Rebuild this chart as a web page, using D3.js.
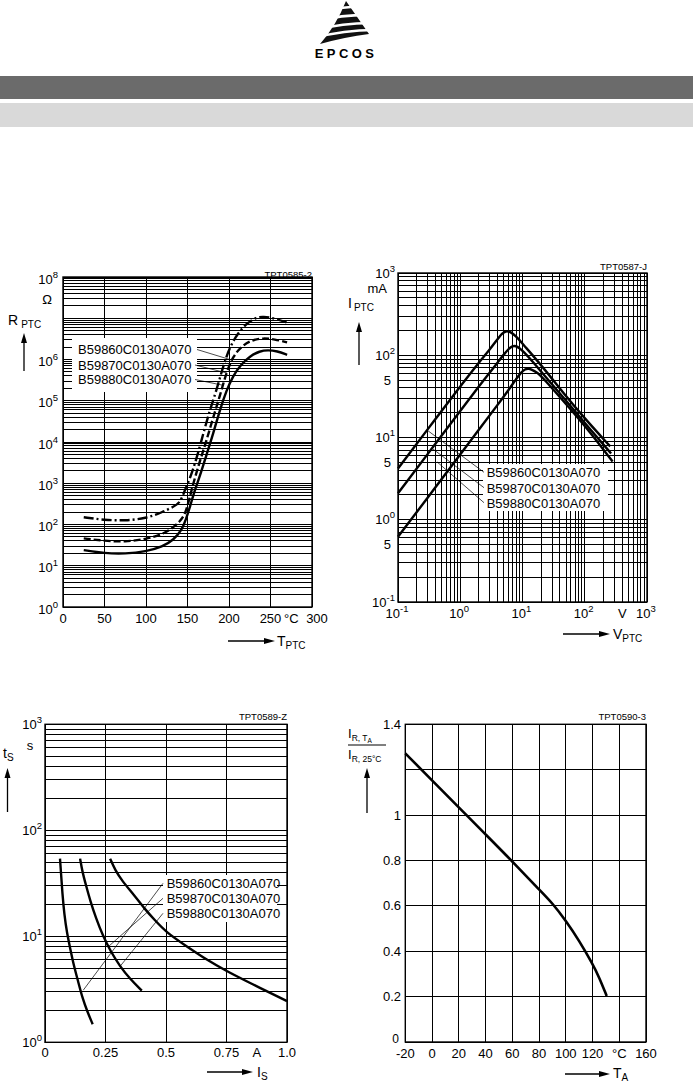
<!DOCTYPE html>
<html>
<head>
<meta charset="utf-8">
<script src="https://cdn.jsdelivr.net/npm/d3@7"></script>
<style>
  body { margin: 0; background: #fff; }
  svg { display: block; font-family: "Liberation Sans", Arial, sans-serif; }
</style>
</head>
<body>
<svg id="page" width="693" height="1082"></svg>
<script>
// ---------- data ----------
var partNames = ["B59860C0130A070", "B59870C0130A070", "B59880C0130A070"];

// R_PTC over T_PTC  [°C, Ω]
var rSolid = [[25,24],[50,20],[75,19.5],[100,22],[120,29],[133,42],[143,73],[148,130],[153,270],[159,700],[165,1500],[173,5000],[181,1.6e4],[189,6e4],[197,1.8e5],[205,4e5],[213,7e5],[225,1.2e6],[237,1.6e6],[247,1.7e6],[258,1.6e6],[270,1.3e6]];
var rDashed = [[25,46],[50,40],[75,38],[100,44],[120,58],[133,85],[140,115],[147,170],[152,400],[157,1000],[165,3500],[173,1.1e4],[181,4e4],[189,1.3e5],[197,5e5],[205,1.2e6],[215,2.1e6],[228,3e6],[241,3.3e6],[255,3.1e6],[270,2.6e6]];
var rDashDot = [[25,150],[50,128],[75,124],[100,140],[120,200],[133,270],[141,330],[147,700],[153,1300],[161,4000],[169,1.6e4],[177,6e4],[185,1.8e5],[193,7e5],[201,2e6],[211,4.5e6],[223,8e6],[233,1.05e7],[241,1.1e7],[255,1e7],[270,7.8e6]];
var tempTicks = [0, 50, 100, 150, 200, 250, 300];
var rExpLabels = [0, 1, 2, 3, 4, 5, 6, 8];
var rLeaderEnds = [[201,1e6],[197.6,4.7e5],[191.6,2.4e5]];

// I_PTC over V_PTC  [V, mA]
var iCurve1 = [[0.1,4.2],[0.3,12.6],[1,42],[2,82],[3,118],[4,158],[4.7,185],[5.4,197],[6.2,194],[7.2,180],[8.5,160],[10,138],[20,76],[45,35],[100,17],[256,7.8]];
var iCurve2 = [[0.1,2.1],[0.3,6.3],[1,21],[2,42],[3,62],[4,82],[5,102],[6,120],[6.9,130],[7.8,130],[9,122],[10,114],[15,82],[20,63],[45,31],[100,15],[265,6.4]];
var iCurve3 = [[0.1,0.62],[0.3,1.86],[1,6.2],[2,12.5],[4,25],[6,38],[8,52],[9.5,62],[11,68],[12.5,69],[14,67],[17,62],[20,56],[45,28],[100,14],[280,5.1]];
var vExp = [-1, 0, 1, 2, 3];
var iExpLabels = [-1, 0, 1, 2, 3];
var iFiveLabels = [0.5, 5, 50];
var iLeaderEnds = [[0.289,12.4],[0.351,7.4],[0.424,5.05]];

// switching time t_S over switching current I_S  [A, s]
var tsA = [[0.062,54],[0.066,40],[0.072,25],[0.08,16],[0.09,11],[0.105,7.5],[0.12,5.2],[0.135,3.9],[0.155,2.6],[0.175,1.95],[0.197,1.48]];
var tsB = [[0.145,54],[0.155,40],[0.17,30],[0.186,22],[0.21,15],[0.24,10],[0.27,7.3],[0.31,5.2],[0.35,4.0],[0.40,3.07]];
var tsC = [[0.269,54],[0.29,42],[0.32,33],[0.365,25],[0.413,18],[0.45,14.5],[0.503,10.8],[0.58,8.2],[0.668,6.0],[0.75,4.7],[0.85,3.6],[1.0,2.45]];
var isTicks = [0, 0.25, 0.5, 0.75, 1.0];
var isTickText = ["0", "0.25", "0.5", "0.75", "1.0"];
var tsExp = [0, 1, 2, 3];
var tsLeaderEnds = [[0.158,3.1],[0.262,8.0],[0.31,5.2]];

// rated current ratio over ambient temperature  [°C, ratio]
var ratioCurve = [[-20,1.272],[0,1.153],[20,1.034],[40,0.915],[60,0.796],[80,0.672],[90,0.612],[100,0.535],[110,0.447],[120,0.345],[125,0.285],[130.6,0.203]];
var taTicks = [-20, 0, 20, 40, 60, 80, 100, 120, 140, 160];
var taLabels = ["-20", "0", "20", "40", "60", "80", "100", "120", "°C", "160"];
var ratioTicks = [0, 0.2, 0.4, 0.6, 0.8, 1, 1.2, 1.4];
var ratioLabels = ["0", "0.2", "0.4", "0.6", "0.8", "1", "", "1.4"];

// ---------- helpers ----------
var svg = d3.select("#page");

function logGrid(lo, hi) {
  var v = [];
  for (var e = lo; e < hi; e++)
    for (var k = 1; k < 10; k++) v.push(k * Math.pow(10, e));
  v.push(Math.pow(10, hi));
  return v;
}

function grid(g, xs, ys, xv, yv) {
  var r = xs.range(), d = ys.range();
  g.selectAll("line.gx").data(xv).enter().append("line")
    .attr("x1", function (v) { return xs(v); }).attr("x2", function (v) { return xs(v); })
    .attr("y1", d[0]).attr("y2", d[1])
    .attr("stroke", "#000").attr("stroke-width", 1).attr("shape-rendering", "crispEdges");
  g.selectAll("line.gy").data(yv).enter().append("line")
    .attr("y1", function (v) { return ys(v); }).attr("y2", function (v) { return ys(v); })
    .attr("x1", r[0]).attr("x2", r[1])
    .attr("stroke", "#000").attr("stroke-width", 1).attr("shape-rendering", "crispEdges");
  g.append("rect").attr("x", r[0]).attr("y", d[1])
    .attr("width", r[1] - r[0]).attr("height", d[0] - d[1])
    .attr("fill", "none").attr("stroke", "#000").attr("stroke-width", 1.4);
}

function powLabel(g, x, y, e, anchor) {
  var t = g.append("text").attr("x", x).attr("y", y)
    .attr("text-anchor", anchor).attr("font-size", 13);
  t.append("tspan").text("10");
  t.append("tspan").attr("dy", -6).attr("font-size", 9.5).text(e);
  return t;
}

function txt(g, x, y, s, anchor, size) {
  return g.append("text").attr("x", x).attr("y", y)
    .attr("text-anchor", anchor || "start").attr("font-size", size || 13).text(s);
}

function arrowUp(g, x, y0, y1) {
  g.append("line").attr("x1", x).attr("x2", x).attr("y1", y0).attr("y2", y1 + 8)
    .attr("stroke", "#000").attr("stroke-width", 1.3);
  g.append("path").attr("d", "M" + x + "," + y1 + "L" + (x - 3) + "," + (y1 + 10) + "L" + (x + 3) + "," + (y1 + 10) + "Z");
}

function arrowRight(g, x0, x1, y) {
  g.append("line").attr("x1", x0).attr("x2", x1 - 8).attr("y1", y).attr("y2", y)
    .attr("stroke", "#000").attr("stroke-width", 1.3);
  g.append("path").attr("d", "M" + x1 + "," + y + "L" + (x1 - 11) + "," + (y - 3) + "L" + (x1 - 11) + "," + (y + 3) + "Z");
}

// smooth curve through the read points
function curve(g, xs, ys, pts, dash, w) {
  var ln = d3.line().x(function (d) { return xs(d[0]); }).y(function (d) { return ys(d[1]); })
    .curve(d3.curveBasis);
  g.append("path").attr("d", ln(pts)).attr("fill", "none")
    .attr("stroke", "#000").attr("stroke-width", w || 2.4)
    .attr("stroke-dasharray", dash || null);
}

function legend(g, x, ys, box) {
  g.append("rect").attr("x", box[0]).attr("y", box[1]).attr("width", box[2]).attr("height", box[3]).attr("fill", "#fff");
  partNames.forEach(function (n, i) { txt(g, x, ys[i], n); });
}

function leader(g, x0, y0, x1, y1) {
  g.append("line").attr("x1", x0).attr("y1", y0).attr("x2", x1).attr("y2", y1)
    .attr("stroke", "#000").attr("stroke-width", 0.7);
}

// ---------- header ----------
var head = svg.append("g");
head.append("path")
  .attr("d", "M346,1 L369,34 Q345,37 320,44 Q336,26 346,1 Z").attr("fill", "#111");
[[319, 12, 372, 7], [317, 21, 374, 15], [315, 30, 374, 23], [313, 38, 374, 30]].forEach(function (s) {
  head.append("path")
    .attr("d", "M" + s[0] + "," + s[1] + " Q345," + ((s[1] + s[3]) / 2 - 4) + " " + s[2] + "," + s[3])
    .attr("fill", "none").attr("stroke", "#fff").attr("stroke-width", 2.6);
});
head.append("text").attr("x", 346).attr("y", 58).attr("text-anchor", "middle")
  .attr("font-size", 13).attr("font-weight", "bold").attr("letter-spacing", 3.4).text("EPCOS");
head.append("rect").attr("x", 0).attr("y", 76).attr("width", 693).attr("height", 23).attr("fill", "#6b6b6b");
head.append("rect").attr("x", 0).attr("y", 103).attr("width", 693).attr("height", 24).attr("fill", "#d9d9d9");

// ---------- chart 1: R_PTC ----------
var g1 = svg.append("g");
var x1 = d3.scaleLinear().domain([0, 300]).range([63, 312]);
var y1 = d3.scaleLog().domain([1, 1e8]).range([607, 277]);
grid(g1, x1, y1, tempTicks, logGrid(0, 8));
legend(g1, 78, [354, 369.5, 384], [72, 338, 125, 54]);
[[197, 349.5], [195, 365], [195, 379.5]].forEach(function (p, i) {
  leader(g1, p[0], p[1], x1(rLeaderEnds[i][0]), y1(rLeaderEnds[i][1]));
});
curve(g1, x1, y1, rSolid);
curve(g1, x1, y1, rDashed, "7,3");
curve(g1, x1, y1, rDashDot, "10,3,2,3");
rExpLabels.forEach(function (e) { powLabel(g1, 58, y1(Math.pow(10, e)) + 6.5, e, "end"); });
txt(g1, 47, 304, "Ω", "middle");
tempTicks.forEach(function (v) {
  if (v < 300) txt(g1, x1(v), 623, v, "middle");
});
txt(g1, x1(275), 623, "°C", "middle");
txt(g1, x1(300) + 5, 623, "300", "middle");
var rl = g1.append("text").attr("x", 8).attr("y", 325).attr("font-size", 14);
rl.append("tspan").text("R");
rl.append("tspan").attr("dx", 3).attr("dy", 3).attr("font-size", 10).text("PTC");
arrowUp(g1, 24, 371, 333);
arrowRight(g1, 228, 275, 641);
var tl = g1.append("text").attr("x", 277).attr("y", 646).attr("font-size", 14);
tl.append("tspan").text("T");
tl.append("tspan").attr("dy", 3).attr("font-size", 10).text("PTC");
txt(g1, 312, 277.5, "TPT0585-2", "end", 9.5);

// ---------- chart 2: I_PTC ----------
var g2 = svg.append("g");
var x2 = d3.scaleLog().domain([0.1, 1000]).range([398, 647]);
var y2 = d3.scaleLog().domain([0.1, 1000]).range([602, 273]);
grid(g2, x2, y2, logGrid(-1, 3), logGrid(-1, 3));
legend(g2, 486.7, [477, 492.5, 507.5], [483, 464, 125, 47]);
[472.3, 487.7, 502.7].forEach(function (y, i) {
  leader(g2, 484, y, x2(iLeaderEnds[i][0]), y2(iLeaderEnds[i][1]));
});
curve(g2, x2, y2, iCurve1);
curve(g2, x2, y2, iCurve2);
curve(g2, x2, y2, iCurve3);
iExpLabels.forEach(function (e) { powLabel(g2, 395, y2(Math.pow(10, e)) + 4.5, e, "end"); });
iFiveLabels.forEach(function (v) { txt(g2, 391, y2(v) + 4.5, "5", "end"); });
txt(g2, 387, 293, "mA", "end");
vExp.forEach(function (e) { powLabel(g2, x2(Math.pow(10, e)) - 1, 618, e, "middle"); });
txt(g2, x2(400), 618, "V", "middle");
var il = g2.append("text").attr("x", 348).attr("y", 308).attr("font-size", 14);
il.append("tspan").text("I");
il.append("tspan").attr("dx", 2).attr("dy", 3).attr("font-size", 10).text("PTC");
arrowUp(g2, 359, 365, 322);
arrowRight(g2, 563, 610, 634);
var vl = g2.append("text").attr("x", 613).attr("y", 639).attr("font-size", 14);
vl.append("tspan").text("V");
vl.append("tspan").attr("dy", 3).attr("font-size", 10).text("PTC");
txt(g2, 647, 270, "TPT0587-J", "end", 9.5);

// ---------- chart 3: t_S ----------
var g3 = svg.append("g");
var x3 = d3.scaleLinear().domain([0, 1]).range([45, 287]);
var y3 = d3.scaleLog().domain([1, 1000]).range([1042.3, 724.3]);
grid(g3, x3, y3, isTicks, logGrid(0, 3));
legend(g3, 166.7, [888, 903, 918], [163, 875, 114, 47]);
[883.3, 898.3, 913.3].forEach(function (y, i) {
  leader(g3, 163, y, x3(tsLeaderEnds[i][0]), y3(tsLeaderEnds[i][1]));
});
curve(g3, x3, y3, tsA);
curve(g3, x3, y3, tsB);
curve(g3, x3, y3, tsC);
tsExp.forEach(function (e) { powLabel(g3, 42, y3(Math.pow(10, e)) + 4.5, e, "end"); });
txt(g3, 30, 750, "s", "middle");
isTicks.forEach(function (v, i) { txt(g3, x3(v), 1057, isTickText[i], "middle"); });
txt(g3, x3(0.875), 1057, "A", "middle");
var sl = g3.append("text").attr("x", 3).attr("y", 758).attr("font-size", 14);
sl.append("tspan").text("t");
sl.append("tspan").attr("dy", 3).attr("font-size", 10).text("S");
arrowUp(g3, 7.5, 812, 768);
arrowRight(g3, 207, 253, 1072);
var isl = g3.append("text").attr("x", 257).attr("y", 1077).attr("font-size", 14);
isl.append("tspan").text("I");
isl.append("tspan").attr("dy", 3).attr("font-size", 10).text("S");
txt(g3, 287, 720, "TPT0589-Z", "end", 9.5);

// ---------- chart 4: I_R(T_A) / I_R(25 °C) ----------
var g4 = svg.append("g");
var x4 = d3.scaleLinear().domain([-20, 160]).range([405.3, 646]);
var y4 = d3.scaleLinear().domain([0, 1.4]).range([1042, 724.3]);
grid(g4, x4, y4, taTicks, ratioTicks);
curve(g4, x4, y4, ratioCurve, null, 2.6);
ratioTicks.forEach(function (v, i) {
  if (ratioLabels[i]) txt(g4, v === 0 ? 399 : 401, y4(v) + 4.5 - (v === 0 ? 4 : 0), ratioLabels[i], "end", v === 0 ? 12 : 13);
});
taTicks.forEach(function (v, i) { txt(g4, x4(v), 1058, taLabels[i], "middle"); });
var nl = g4.append("text").attr("x", 348).attr("y", 738).attr("font-size", 13);
nl.append("tspan").text("I");
nl.append("tspan").attr("dy", 3).attr("font-size", 8.5).text("R, T");
nl.append("tspan").attr("dy", 1.5).attr("font-size", 6.5).text("A");
g4.append("line").attr("x1", 348).attr("x2", 386).attr("y1", 745).attr("y2", 745)
  .attr("stroke", "#000").attr("stroke-width", 1);
var dl = g4.append("text").attr("x", 348).attr("y", 759).attr("font-size", 13);
dl.append("tspan").text("I");
dl.append("tspan").attr("dy", 3).attr("font-size", 8.5).text("R, 25°C");
arrowUp(g4, 367, 813, 768);
arrowRight(g4, 565, 610, 1074);
var tal = g4.append("text").attr("x", 613).attr("y", 1078).attr("font-size", 14);
tal.append("tspan").text("T");
tal.append("tspan").attr("dy", 3).attr("font-size", 10).text("A");
txt(g4, 646, 720, "TPT0590-3", "end", 9.5);
</script>
</body>
</html>
